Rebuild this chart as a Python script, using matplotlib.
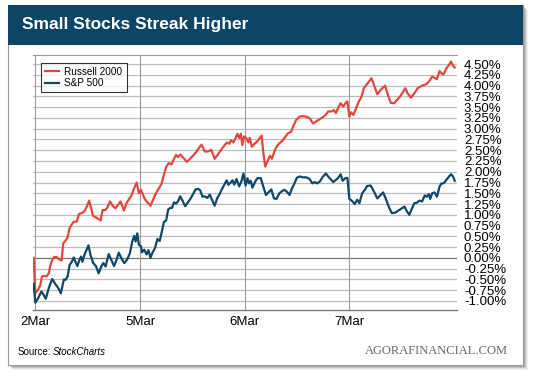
import numpy as np
import matplotlib
matplotlib.use("Agg")
import matplotlib.pyplot as plt
from matplotlib.patches import Rectangle

plt.rcParams['font.family'] = ['Liberation Sans', 'DejaVu Sans']

# trading-day index (0 = 2 Mar, 1 = 5 Mar, 2 = 6 Mar, 3 = 7 Mar) and % change
russell_x = [-0.016, 0.0, 0.026, 0.048, 0.064, 0.084, 0.106, 0.129, 0.141, 0.161, 0.180, 0.203,
             0.225, 0.251, 0.267, 0.289, 0.309, 0.328, 0.347, 0.367, 0.395, 0.418, 0.444, 0.469,
             0.492, 0.514, 0.534, 0.550, 0.579, 0.605, 0.624, 0.643, 0.669, 0.691, 0.714, 0.740,
             0.765, 0.791, 0.814, 0.846, 0.871, 0.894, 0.920, 0.945, 0.968, 0.990, 1.010,
             1.041, 1.063, 1.081, 1.100, 1.125, 1.150, 1.181, 1.206, 1.228, 1.250, 1.275, 1.300,
             1.322, 1.344, 1.363, 1.384, 1.416, 1.447, 1.478, 1.509, 1.541, 1.572, 1.588, 1.619,
             1.650, 1.681, 1.713, 1.744, 1.775, 1.806, 1.831, 1.853, 1.869, 1.891, 1.909, 1.931,
             1.947, 1.963, 1.978, 1.994,
             2.016, 2.035, 2.048, 2.068, 2.090, 2.122, 2.161, 2.177, 2.196, 2.219, 2.241, 2.260,
             2.283, 2.305, 2.331, 2.357, 2.379, 2.412, 2.444, 2.466, 2.492, 2.524, 2.556, 2.588,
             2.621, 2.653, 2.678, 2.704, 2.743, 2.775, 2.797, 2.830, 2.852, 2.871, 2.894, 2.916,
             2.942, 2.961, 2.981, 3.000, 3.016, 3.039,
             3.064, 3.090, 3.116, 3.138, 3.161, 3.186, 3.212, 3.235, 3.267, 3.299, 3.341, 3.363,
             3.395, 3.428, 3.460, 3.492, 3.534, 3.556, 3.588, 3.621, 3.653, 3.695, 3.733, 3.759,
             3.791, 3.814, 3.836, 3.862, 3.881, 3.900, 3.926, 3.952, 3.971, 3.990, 4.006]
russell_y = [0.00, -0.82, -0.74, -0.63, -0.43, -0.42, -0.43, -0.36, -0.20, -0.05, 0.02, 0.02,
             -0.03, -0.06, 0.34, 0.40, 0.48, 0.69, 0.77, 0.84, 0.84, 1.02, 1.04, 1.08,
             1.19, 1.33, 1.15, 0.98, 0.94, 0.90, 0.87, 1.11, 1.11, 1.18, 1.31, 1.21,
             1.15, 1.23, 1.31, 1.10, 1.27, 1.36, 1.46, 1.62, 1.75, 1.50, 1.58,
             1.39, 1.31, 1.26, 1.21, 1.35, 1.49, 1.62, 1.72, 1.93, 2.11, 2.20, 2.17,
             2.28, 2.39, 2.34, 2.40, 2.32, 2.23, 2.30, 2.38, 2.47, 2.58, 2.63, 2.47,
             2.47, 2.51, 2.30, 2.40, 2.51, 2.61, 2.68, 2.65, 2.73, 2.68, 2.76, 2.88,
             2.78, 2.88, 2.62, 2.82,
             2.78, 2.68, 2.79, 2.58, 2.64, 2.71, 2.84, 2.47, 2.12, 2.25, 2.37, 2.30,
             2.47, 2.58, 2.66, 2.71, 2.78, 2.89, 2.93, 3.07, 3.20, 3.28, 3.29, 3.28,
             3.24, 3.12, 3.16, 3.20, 3.26, 3.32, 3.40, 3.40, 3.43, 3.36, 3.49, 3.59,
             3.51, 3.59, 3.63, 3.28, 3.38, 3.32,
             3.47, 3.63, 3.74, 3.94, 4.01, 4.09, 4.17, 4.01, 3.80, 3.90, 4.00, 3.82,
             3.60, 3.59, 3.68, 3.77, 3.94, 3.82, 3.72, 3.82, 3.94, 4.00, 4.03, 4.09,
             4.21, 4.18, 4.15, 4.34, 4.28, 4.26, 4.40, 4.48, 4.56, 4.46, 4.42]

sp500_x = [-0.016, 0.0, 0.026, 0.058, 0.080, 0.100, 0.129, 0.161, 0.186, 0.219, 0.244, 0.273,
           0.289, 0.309, 0.328, 0.347, 0.367, 0.383, 0.402, 0.421, 0.437, 0.450, 0.469, 0.508,
           0.527, 0.553, 0.579, 0.605, 0.630, 0.650, 0.672, 0.701, 0.727, 0.752, 0.775, 0.797,
           0.823, 0.849, 0.875, 0.904, 0.926, 0.945, 0.958, 0.974, 0.990,
           1.009, 1.019, 1.041, 1.063, 1.081, 1.100, 1.119, 1.144, 1.166, 1.188, 1.206, 1.228,
           1.250, 1.269, 1.288, 1.306, 1.325, 1.344, 1.363, 1.384, 1.406, 1.431, 1.456, 1.481,
           1.509, 1.531, 1.556, 1.575, 1.597, 1.619, 1.644, 1.666, 1.688, 1.713, 1.738, 1.759,
           1.781, 1.806, 1.828, 1.844, 1.863, 1.884, 1.900, 1.922, 1.947, 1.969, 1.988, 2.009,
           2.026, 2.042, 2.058, 2.074, 2.100, 2.122, 2.154, 2.177, 2.203, 2.228, 2.254, 2.280,
           2.305, 2.331, 2.357, 2.379, 2.402, 2.428, 2.453, 2.476, 2.498, 2.524, 2.556, 2.588,
           2.621, 2.646, 2.669, 2.691, 2.717, 2.749, 2.775, 2.797, 2.820, 2.846, 2.871, 2.894,
           2.916, 2.936, 2.961, 2.981, 3.000,
           3.026, 3.051, 3.074, 3.096, 3.122, 3.148, 3.170, 3.203, 3.235, 3.267, 3.299, 3.322,
           3.347, 3.379, 3.405, 3.437, 3.469, 3.502, 3.527, 3.547, 3.572, 3.598, 3.621, 3.643,
           3.669, 3.695, 3.720, 3.740, 3.759, 3.772, 3.791, 3.814, 3.836, 3.862, 3.881, 3.900,
           3.926, 3.952, 3.971, 3.990, 4.006]
sp500_y = [-0.60, -1.04, -0.94, -0.78, -0.86, -0.95, -0.70, -0.49, -0.59, -0.70, -0.82, -0.50,
           -0.51, -0.43, -0.16, -0.10, 0.01, -0.09, -0.19, -0.05, 0.03, -0.09, 0.07, 0.29,
           0.07, -0.12, -0.19, -0.36, -0.20, -0.12, -0.20, 0.09, -0.05, -0.19, -0.05, 0.12,
           -0.01, -0.12, -0.05, 0.11, 0.38, 0.51, 0.38, 0.57, 0.30,
           0.27, 0.13, 0.19, 0.08, 0.18, 0.00, 0.12, 0.23, 0.44, 0.39, 0.58, 0.83,
           0.87, 1.12, 1.16, 1.16, 1.29, 1.26, 1.31, 1.43, 1.33, 1.20, 1.28, 1.37,
           1.49, 1.59, 1.60, 1.57, 1.42, 1.43, 1.39, 1.47, 1.35, 1.21, 1.39, 1.47,
           1.59, 1.70, 1.80, 1.70, 1.74, 1.80, 1.70, 1.83, 1.66, 1.78, 1.96, 1.68,
           1.85, 1.73, 1.79, 1.63, 1.77, 1.85, 1.85, 1.66, 1.46, 1.52, 1.59, 1.38,
           1.37, 1.50, 1.55, 1.58, 1.54, 1.46, 1.62, 1.73, 1.86, 1.89, 1.87, 1.87,
           1.83, 1.73, 1.76, 1.73, 1.77, 1.89, 1.96, 1.89, 1.83, 1.76, 1.81, 1.86,
           1.94, 1.79, 1.85, 1.86, 1.37,
           1.32, 1.25, 1.35, 1.27, 1.50, 1.58, 1.67, 1.68, 1.54, 1.38, 1.46, 1.52,
           1.38, 1.17, 1.04, 1.05, 1.10, 1.15, 1.19, 1.09, 1.00, 1.15, 1.27, 1.28,
           1.33, 1.31, 1.45, 1.42, 1.48, 1.37, 1.50, 1.52, 1.42, 1.66, 1.73, 1.73,
           1.81, 1.89, 1.94, 1.89, 1.79]

day_ticks = [0, 1, 2, 3]
day_labels = ["2Mar", "5Mar", "6Mar", "7Mar"]
pct_ticks = np.arange(-1.0, 4.51, 0.25)

W, H = 540, 379
RED = "#e4463b"
BLUE = "#0f4868"
HEADER = "#0e4565"


def fx(x):
    return x / W


def fy(y):
    return 1 - y / H


fig = plt.figure(figsize=(W / 100, H / 100), dpi=100)
fig.patch.set_facecolor("white")

# card shadow + card + header band (kept behind the axes)
for off, a in [(5, 0.08), (4, 0.12), (3, 0.18), (2, 0.22)]:
    fig.add_artist(Rectangle((fx(8 + off), fy(365 + off)), 515 / W, 360 / H,
                             transform=fig.transFigure, fc="#555555", ec="none", alpha=a,
                             zorder=-5))
fig.add_artist(Rectangle((fx(8), fy(365)), 515 / W, 360 / H, transform=fig.transFigure,
                         fc="white", ec="#9a9a9a", lw=0.8, zorder=-4))
fig.add_artist(Rectangle((fx(8), fy(45)), 515 / W, 40 / H, transform=fig.transFigure,
                         fc=HEADER, ec="none", zorder=-3))
fig.text(fx(22), fy(25), "Small Stocks Streak Higher", color="white", fontsize=12.5,
         fontweight="bold", va="center", ha="left")

ax = fig.add_axes([fx(33), fy(310), 424 / W, 255 / H])
ax.patch.set_alpha(0)
ax.set_xlim(-0.022, 4.028)
ax.set_ylim(-1.21, 4.71)

for v in pct_ticks:
    ax.axhline(v, color="#777777" if abs(v) < 1e-9 else "#bdbdbd", lw=0.9, zorder=1)
for d in day_ticks:
    ax.axvline(d, color="#9a9a9a", lw=0.8, zorder=1)

ax.plot(russell_x, russell_y, color=RED, lw=1.6, label="Russell 2000", zorder=3)
ax.plot(sp500_x, sp500_y, color=BLUE, lw=1.6, label="S&P 500", zorder=3)

ax.set_xticks(day_ticks)
ax.set_xticklabels(day_labels, fontsize=9.5)
ax.yaxis.tick_right()
ax.set_yticks(pct_ticks)
ax.set_yticklabels([f"{v:.2f}%" for v in pct_ticks], fontsize=9.5)
ax.tick_params(axis="both", length=0, colors="black")
ax.tick_params(axis="y", pad=5)
ax.tick_params(axis="x", pad=4)

for side in ["left", "right"]:
    ax.spines[side].set_visible(False)
ax.spines["top"].set_color("#999999")
ax.spines["top"].set_linewidth(0.8)
ax.spines["bottom"].set_color("#777777")
ax.spines["bottom"].set_linewidth(1.0)

leg = ax.legend(loc="upper left", bbox_to_anchor=(0.02, 0.97), fontsize=7.2, frameon=True,
                fancybox=False, edgecolor="black", handlelength=1.4, handletextpad=0.5,
                borderpad=0.4, labelspacing=0.15, borderaxespad=0)
leg.get_frame().set_linewidth(0.8)

fig.text(fx(18), fy(352), "Source:", fontsize=7, va="center", ha="left")
fig.text(fx(53), fy(352), "StockCharts", fontsize=7, style="italic", va="center", ha="left")
fig.text(fx(508), fy(351), "AGORAFINANCIAL.COM", fontsize=9, family="Liberation Serif",
         color="#666666", va="center", ha="right")

fig.savefig("out.png", dpi=100)
